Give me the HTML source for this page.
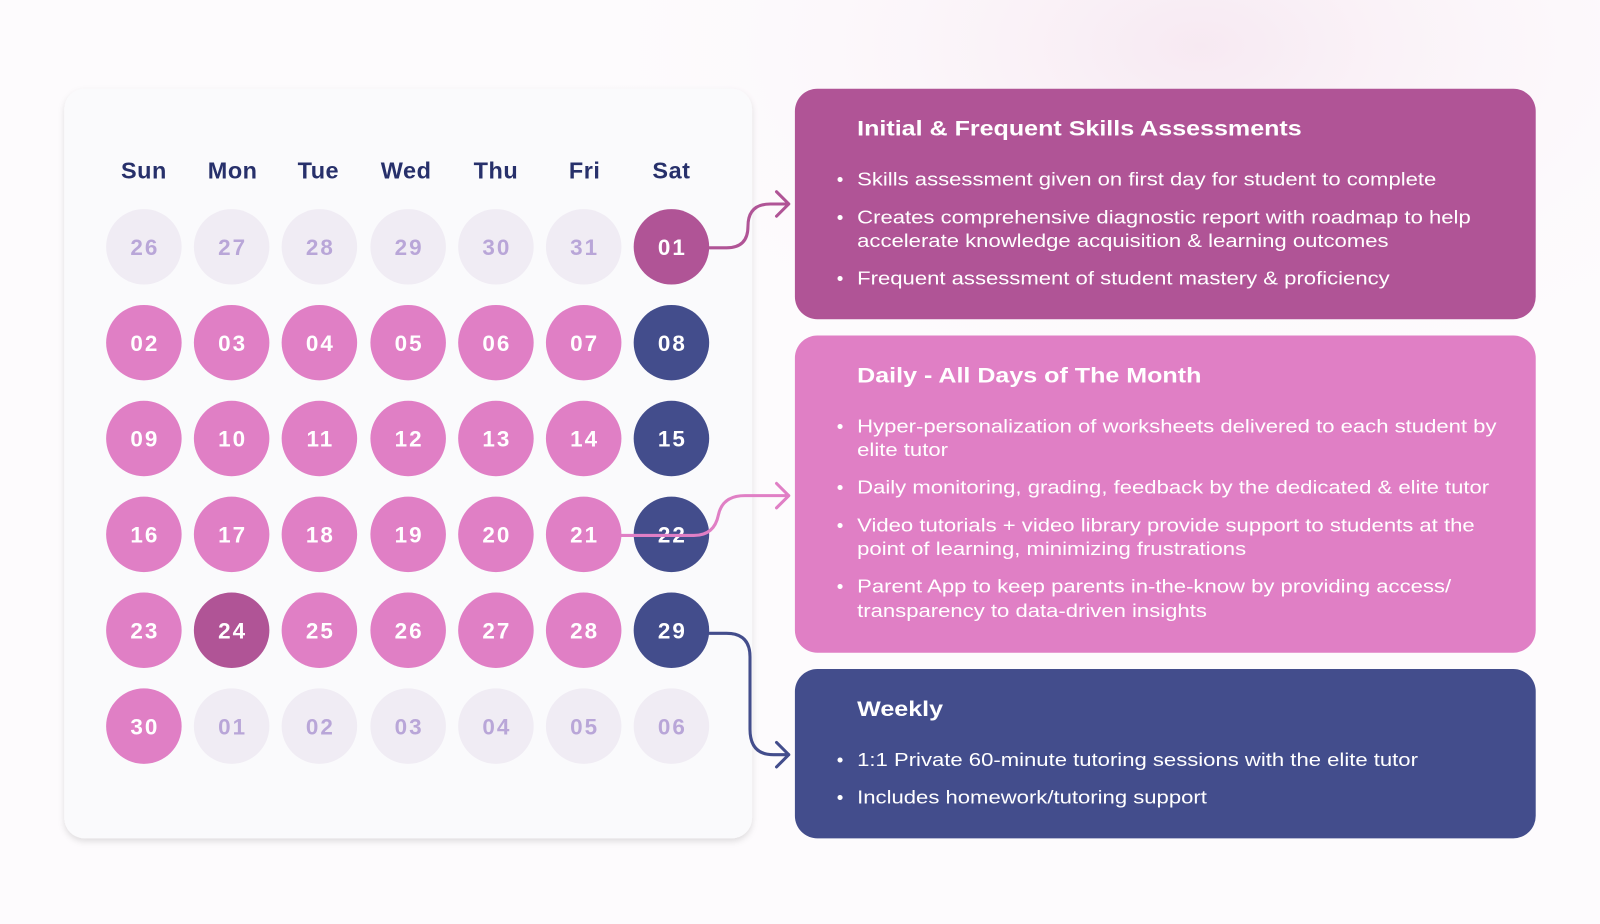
<!DOCTYPE html>
<html><head><meta charset="utf-8"><style>
html,body{margin:0;padding:0;width:1600px;height:924px;overflow:hidden;background:#fdfbfd;}
svg{display:block}
.d{font-family:"Liberation Sans",sans-serif;font-weight:bold;font-size:23px;fill:#27306b;text-anchor:middle;letter-spacing:0.5px}
.n{font-family:"Liberation Sans",sans-serif;font-weight:bold;font-size:22px;text-anchor:middle;letter-spacing:2px}
.t{font-family:"Liberation Sans",sans-serif;font-weight:bold;font-size:21px;fill:#fff}
.b{font-family:"Liberation Sans",sans-serif;font-size:18.5px;fill:#fff}
</style></head><body>
<svg width="1600" height="924" viewBox="0 0 1568 906" preserveAspectRatio="none">
<defs>
<filter id="sh" x="-5%" y="-5%" width="110%" height="110%"><feDropShadow dx="0" dy="3" stdDeviation="3" flood-color="#000" flood-opacity="0.12"/></filter>
<radialGradient id="g1" cx="0.75" cy="0.05" r="0.4"><stop offset="0" stop-color="#f7e9f2"/><stop offset="1" stop-color="#fdfbfd" stop-opacity="0"/></radialGradient>
</defs>
<rect width="1568" height="906" fill="#fdfbfd"/>
<rect width="1568" height="906" fill="url(#g1)"/>
<rect x="63" y="87" width="674" height="735" rx="20" fill="#fafafc" filter="url(#sh)"/>
<g class="d">
<text x="141" y="175">Sun</text><text x="228" y="175">Mon</text><text x="312" y="175">Tue</text><text x="398" y="175">Wed</text><text x="486" y="175">Thu</text><text x="573" y="175">Fri</text><text x="658" y="175">Sat</text>
</g>
<g id="cal"></g>
<g fill="none" stroke-width="3" stroke-linecap="round" stroke-linejoin="round">
<path d="M695 243 H712 Q733 243 733 222 Q733 200 755 200 H773 M761 188 L773 200 L761 212" stroke="#b05496"/>
<path d="M608 525 H680 Q700 525 704 505 Q708 486 730 486 H773 M761 474 L773 486 L761 498" stroke="#e07fc5"/>
<path d="M695 621 H712 Q735 621 735 644 V715 Q735 740 758 740 H773 M761 728 L773 740 L761 752" stroke="#434d8c"/>
</g>
<rect x="779" y="87" width="726" height="226" rx="22" fill="#b05496"/>
<rect x="779" y="329" width="726" height="311" rx="22" fill="#e07fc5"/>
<rect x="779" y="656" width="726" height="166" rx="22" fill="#434d8c"/>
<g transform="translate(840 0) scale(1.17 1) translate(-840 0)">
<text class="t" x="840" y="133">Initial &amp; Frequent Skills Assessments</text>
<text class="t" x="840" y="375">Daily - All Days of The Month</text>
<text class="t" x="840" y="702">Weekly</text>
<g class="b">
<text x="840" y="182">Skills assessment given on first day for student to complete</text>
<text x="840" y="219">Creates comprehensive diagnostic report with roadmap to help</text>
<text x="840" y="242">accelerate knowledge acquisition &amp; learning outcomes</text>
<text x="840" y="279">Frequent assessment of student mastery &amp; proficiency</text>
<text x="840" y="424">Hyper-personalization of worksheets delivered to each student by</text>
<text x="840" y="447">elite tutor</text>
<text x="840" y="484">Daily monitoring, grading, feedback by the dedicated &amp; elite tutor</text>
<text x="840" y="521">Video tutorials + video library provide support to students at the</text>
<text x="840" y="544">point of learning, minimizing frustrations</text>
<text x="840" y="581">Parent App to keep parents in-the-know by providing access/</text>
<text x="840" y="605">transparency to data-driven insights</text>
<text x="840" y="751">1:1 Private 60-minute tutoring sessions with the elite tutor</text>
<text x="840" y="788">Includes homework/tutoring support</text>
</g>
</g>
<g class="b">
<text x="820" y="182">•</text><text x="820" y="219">•</text><text x="820" y="279">•</text>
<text x="820" y="424">•</text><text x="820" y="484">•</text><text x="820" y="521">•</text><text x="820" y="581">•</text>
<text x="820" y="751">•</text><text x="820" y="788">•</text>
</g>
</svg>
<script>
const xs=[141,227,313,400,486,572,658],ys=[242,336,430,524,618,712];
const L='#f0ecf4',P='#e07fc5',D='#434d8c',M='#b05496';
const nums=[['26','27','28','29','30','31','01'],['02','03','04','05','06','07','08'],['09','10','11','12','13','14','15'],['16','17','18','19','20','21','22'],['23','24','25','26','27','28','29'],['30','01','02','03','04','05','06']];
let s='';
for(let r=0;r<6;r++)for(let c=0;c<7;c++){
 let f=P,t='#fff';
 if(r==0&&c<6||r==5&&c>0){f=L;t='#b9a6d8';}
 else if(r==0&&c==6)f=M;
 else if(c==6)f=D;
 if(r==4&&c==1)f=M;
 s+=`<circle cx="${xs[c]}" cy="${ys[r]}" r="37" fill="${f}"/><text class="n" x="${xs[c]+1}" y="${ys[r]+8}" fill="${t}">${nums[r][c]}</text>`;
}
document.getElementById('cal').innerHTML=s;
</script>
</body></html>
